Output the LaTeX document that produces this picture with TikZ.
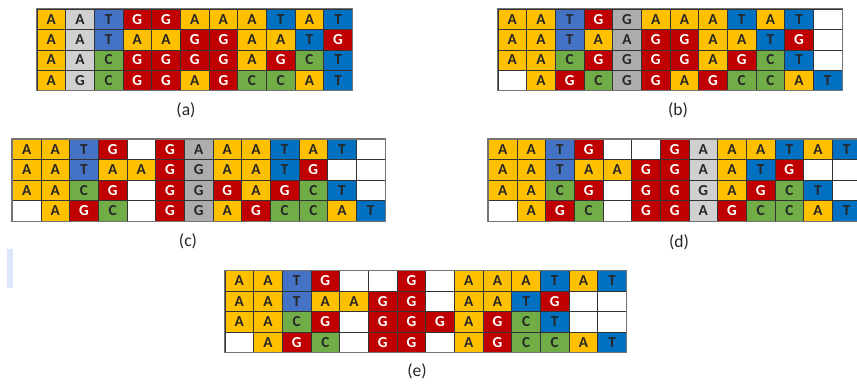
\documentclass[tikz,border=0pt]{standalone}
\usepackage{fontspec}
\setmainfont{Carlito}
\usepackage{tikz}

\definecolor{nucA}{HTML}{FFC000}
\definecolor{nucG}{HTML}{C00000}
\definecolor{nucC}{HTML}{70AD47}
\definecolor{nucT}{HTML}{0070C0}
\definecolor{nucTl}{HTML}{4472C4}
\definecolor{gapgray}{HTML}{ADADAD}
\definecolor{gaplight}{HTML}{D0D0D0}
\definecolor{ink}{HTML}{262626}
\definecolor{markblue}{HTML}{DCE8FA}

\tikzset{
  cell/.style={draw=black!80, line width=0.5pt, minimum width=8.6mm,
    minimum height=6.12mm, inner sep=0pt, text=ink,
    font=\fontsize{13}{13}\selectfont\bfseries},
  bA/.style={cell, fill=nucA, node contents=A},
  bC/.style={cell, fill=nucC, node contents=C},
  bG/.style={cell, fill=nucG, text=white, node contents=G},
  bT/.style={cell, fill=nucT, node contents=T},
  lT/.style={cell, fill=nucTl, node contents=T},
  bx/.style={cell, fill=white, node contents={}},
  gA/.style={cell, fill=gapgray, node contents=A},
  gG/.style={cell, fill=gapgray, node contents=G},
  hA/.style={cell, fill=gaplight, node contents=A},
  hG/.style={cell, fill=gaplight, node contents=G},
  panel/.style={draw=black!55, line width=0.9pt},
  caption/.style={text=ink, font=\fontsize{15}{15}\selectfont}
}

% one panel: #1 name, #2 left, #3 top, #4..#7 the four rows
\newcommand\alignpanel[7]{%
  \foreach \row [count=\r] in {{#4},{#5},{#6},{#7}} {
    \foreach \s [count=\i] in \row {
      \node (#1-\r-\i) at ({#2+(\i-0.5)*28.67},{#3+(\r-0.5)*20.4}) [\s];
    }
  }
}

\begin{document}
\begin{tikzpicture}[x=0.3mm, y=-0.3mm]
\useasboundingbox (0,0) rectangle (857,383);

% ---- panel (a) ----
\alignpanel{a}{37}{9}
  {bA,hA,lT,bG,bG,bA,bA,bA,bT,bA,bT}
  {bA,hA,lT,bA,bA,bG,bG,bA,bA,bT,bG}
  {bA,hA,bC,bG,bG,bG,bG,bA,bG,bC,bT}
  {bA,hG,bC,bG,bG,bA,bG,bC,bC,bA,bT}
\draw[panel] (a-1-1.north west) rectangle (a-4-11.south east);
\node[caption] (capa) at (186,110) {(a)};

% ---- panel (b) ----
\alignpanel{b}{498}{9}
  {bA,bA,lT,bG,gG,bA,bA,bA,bT,bA,bT,bx}
  {bA,bA,lT,bA,gA,bG,bG,bA,bA,bT,bG,bx}
  {bA,bA,bC,bG,gG,bG,bG,bA,bG,bC,bT,bx}
  {bx,bA,bG,bC,gG,bG,bA,bG,bC,bC,bA,bT}
\draw[panel] (b-1-1.north west) rectangle (b-4-12.south east);
\node[caption] (capb) at (678,110) {(b)};

% ---- panel (c) ----
\alignpanel{c}{12.3}{139.3}
  {bA,bA,lT,bG,bx,bG,gA,bA,bA,bT,bA,bT,bx}
  {bA,bA,lT,bA,bA,bG,gG,bA,bA,bT,bG,bx,bx}
  {bA,bA,bC,bG,bx,bG,gG,bG,bA,bG,bC,bT,bx}
  {bx,bA,bG,bC,bx,bG,gG,bA,bG,bC,bC,bA,bT}
\draw[panel] (c-1-1.north west) rectangle (c-4-13.south east);
\node[caption] (capc) at (188,241) {(c)};

% ---- panel (d) ----
\alignpanel{d}{488.3}{139.3}
  {bA,bA,lT,bG,bx,bx,bG,hA,bA,bA,bT,bA,bT}
  {bA,bA,lT,bA,bA,bG,bG,hA,bA,bT,bG,bx,bx}
  {bA,bA,bC,bG,bx,bG,bG,hG,bA,bG,bC,bT,bx}
  {bx,bA,bG,bC,bx,bG,bG,hA,bG,bC,bC,bA,bT}
\draw[panel] (d-1-1.north west) rectangle (d-4-13.south east);
\node[caption] (capd) at (679,242) {(d)};

% ---- panel (e) ----
\alignpanel{e}{225}{270.7}
  {bA,bA,lT,bG,bx,bx,bG,bx,bA,bA,bA,bT,bA,bT}
  {bA,bA,lT,bA,bA,bG,bG,bx,bA,bA,bT,bG,bx,bx}
  {bA,bA,bC,bG,bx,bG,bG,bG,bA,bG,bC,bT,bx,bx}
  {bx,bA,bG,bC,bx,bG,bG,bx,bA,bG,bC,bC,bA,bT}
\draw[panel] (e-1-1.north west) rectangle (e-4-14.south east);
\node[caption] (cape) at (417,371) {(e)};

% stray marker on the left edge
\fill[markblue] (7.3,249) rectangle (13.3,288);

\end{tikzpicture}
\end{document}
